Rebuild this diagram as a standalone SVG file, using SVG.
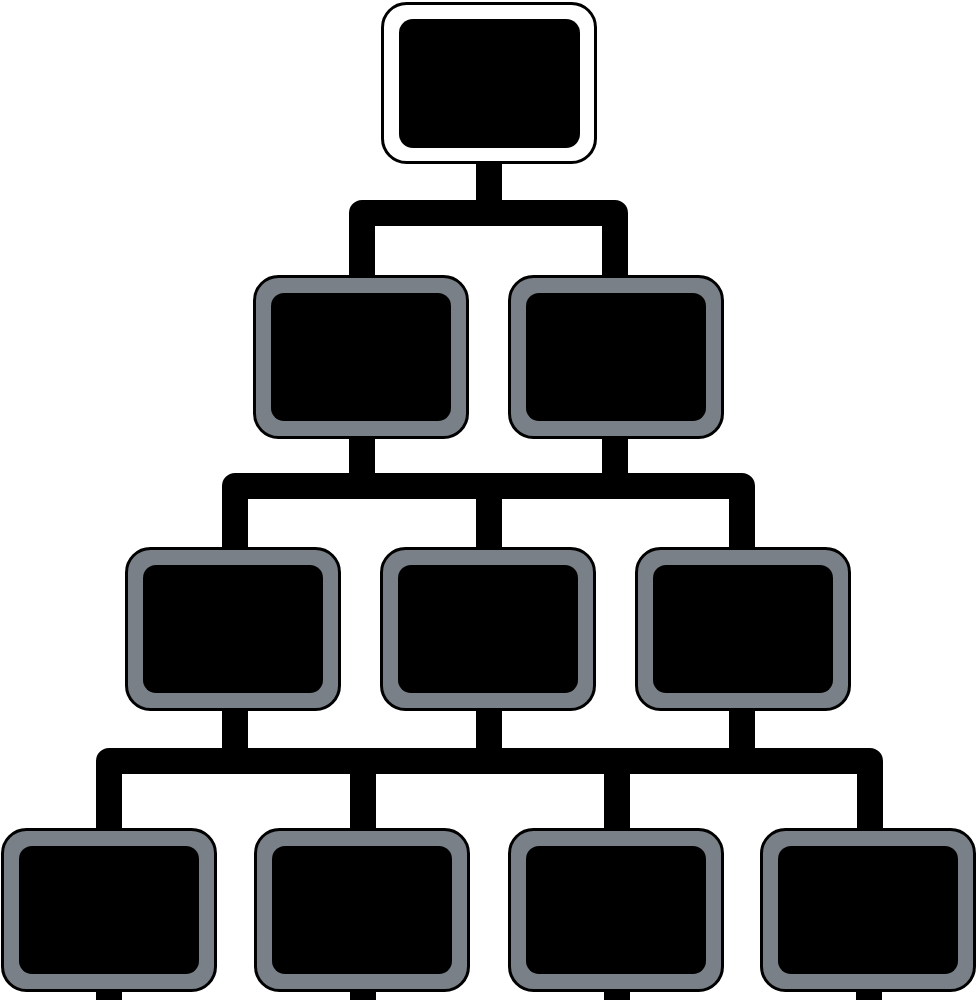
<svg xmlns="http://www.w3.org/2000/svg" width="976" height="1000" viewBox="0 0 976 1000">
<style>
.bg{fill:#ffffff}
.link{fill:none;stroke:#000;stroke-width:26;stroke-linejoin:round;stroke-linecap:butt}
.frame{fill:#7a8088;stroke:#000;stroke-width:3}
.frame-top{fill:#ffffff;stroke:#000;stroke-width:3}
.screen{fill:#000}
</style>
<defs>
<g id="node">
<rect class="frame" x="1.5" y="1.5" width="213" height="161" rx="24" ry="24"/>
<rect class="screen" x="18" y="18" width="180" height="128" rx="13" ry="13"/>
</g>
</defs>
<rect class="bg" x="0" y="0" width="976" height="1000"/>
<g id="connectors">
<path class="link" d="M489,163 V213"/>
<path class="link" d="M362,278 V213 H615 V278"/>
<path class="link" d="M362,436 V486"/>
<path class="link" d="M615,436 V486"/>
<path class="link" d="M235,550 V486 H742 V550"/>
<path class="link" d="M489,486 V550"/>
<path class="link" d="M235,710 V761"/>
<path class="link" d="M489,710 V761"/>
<path class="link" d="M742,710 V761"/>
<path class="link" d="M109,830 V761 H870 V830"/>
<path class="link" d="M363,761 V830"/>
<path class="link" d="M617,761 V830"/>
<path class="link" d="M109,990 V1000"/>
<path class="link" d="M363,990 V1000"/>
<path class="link" d="M617,990 V1000"/>
<path class="link" d="M869,990 V1000"/>
</g>
<g id="node-root" transform="translate(381,2)">
<rect class="frame-top" x="1.5" y="1.5" width="213" height="159" rx="24" ry="24"/>
<rect class="screen" x="18" y="17" width="181" height="129" rx="14" ry="14"/>
</g>
<g id="node-2a" transform="translate(253,275)"><use href="#node"/></g>
<g id="node-2b" transform="translate(508,275)"><use href="#node"/></g>
<g id="node-3a" transform="translate(125,547)"><use href="#node"/></g>
<g id="node-3b" transform="translate(380,547)"><use href="#node"/></g>
<g id="node-3c" transform="translate(635,547)"><use href="#node"/></g>
<g id="node-4a" transform="translate(1,828)"><use href="#node"/></g>
<g id="node-4b" transform="translate(254,828)"><use href="#node"/></g>
<g id="node-4c" transform="translate(508,828)"><use href="#node"/></g>
<g id="node-4d" transform="translate(760,828)"><use href="#node"/></g>
</svg>
